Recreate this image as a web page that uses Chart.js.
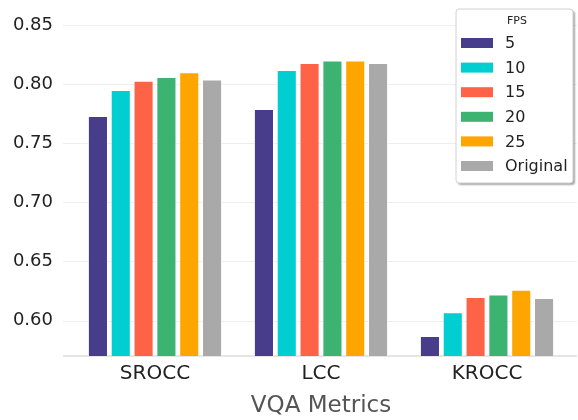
<!DOCTYPE html>
<html>
<head>
<meta charset="utf-8">
<script src="https://cdn.jsdelivr.net/npm/chart.js@4"></script>
<style>
  body { margin: 0; background: #fff; }
  #wrap { width: 578px; height: 420px; }
</style>
</head>
<body>
<div id="wrap"><canvas id="chart"></canvas></div>
<script>
// Data
const metrics = ['SROCC', 'LCC', 'KROCC'];
const fpsLabels = ['5', '10', '15', '20', '25', 'Original'];
const fps5 = [0.773, 0.779, 0.587];
const fps10 = [0.795, 0.812, 0.607];
const fps15 = [0.803, 0.818, 0.620];
const fps20 = [0.806, 0.820, 0.622];
const fps25 = [0.810, 0.820, 0.626];
const fpsOriginal = [0.804, 0.818, 0.619];
const yTicks = [0.60, 0.65, 0.70, 0.75, 0.80, 0.85];

const colors = ['#483D8B', '#00CED1', '#FF6347', '#3CB371', '#FFA500', '#A9A9A9'];
const series = [fps5, fps10, fps15, fps20, fps25, fpsOriginal];

const font = 'DejaVu Sans';
const gridLeft = 63, gridRight = 577;

// Grid lines and bottom spine, wider than the bar area (matplotlib margins)
const wideGrid = {
    id: 'wideGrid',
    beforeDatasetsDraw(chart) {
        const c = chart.ctx;
        const y = chart.scales.y;
        c.save();
        c.strokeStyle = '#eeeeee';
        c.lineWidth = 1;
        yTicks.forEach(v => {
            const py = Math.round(y.getPixelForValue(v)) + 0.5;
            c.beginPath();
            c.moveTo(gridLeft, py);
            c.lineTo(gridRight, py);
            c.stroke();
        });
        c.strokeStyle = '#dddddd';
        c.lineWidth = 1.5;
        const by = chart.chartArea.bottom;
        c.beginPath();
        c.moveTo(gridLeft, by);
        c.lineTo(gridRight, by);
        c.stroke();
        c.restore();
    }
};

// Legend box drawn in the top right corner, like the original
const boxLegend = {
    id: 'boxLegend',
    afterDraw(chart) {
        const c = chart.ctx;
        const x = 456, y = 9, w = 117, h = 174;
        c.save();
        c.shadowColor = 'rgba(0,0,0,0.35)';
        c.shadowOffsetX = 2;
        c.shadowOffsetY = 2;
        c.shadowBlur = 2;
        c.fillStyle = '#fff';
        c.beginPath();
        c.roundRect(x, y, w, h, 3);
        c.fill();
        c.shadowColor = 'transparent';
        c.strokeStyle = '#d0d0d0';
        c.lineWidth = 1;
        c.stroke();

        c.fillStyle = '#222';
        c.font = '11px "' + font + '"';
        c.textAlign = 'center';
        c.textBaseline = 'middle';
        c.fillText('FPS', 517, 21);

        c.font = '16px "' + font + '"';
        c.textAlign = 'left';
        chart.data.datasets.forEach((ds, i) => {
            const ry = 43 + i * 24.6;
            c.fillStyle = ds.backgroundColor;
            c.fillRect(461, ry - 5, 32, 10);
            c.fillStyle = '#222';
            c.fillText(ds.label, 505, ry + 1);
        });
        c.restore();
    }
};

const ctx = document.getElementById('chart').getContext('2d');
const chart = new Chart(ctx, {
    type: 'bar',
    data: {
        labels: metrics,
        datasets: series.map((vals, i) => ({
            label: fpsLabels[i],
            data: vals,
            backgroundColor: colors[i],
            borderColor: 'rgba(255,255,255,0.6)',
            borderWidth: 1,
            barPercentage: 0.88,
            categoryPercentage: 0.825
        }))
    },
    options: {
        responsive: true,
        maintainAspectRatio: false,
        animation: false,
        layout: { padding: { top: 5, right: 8, left: 0, bottom: 0 } },
        plugins: {
            legend: { display: false },
            tooltip: { enabled: false }
        },
        scales: {
            x: {
                grid: { display: false, drawTicks: false },
                border: { display: false },
                ticks: { color: '#222', font: { family: font, size: 20 }, padding: 6 },
                title: {
                    display: true,
                    text: 'VQA Metrics',
                    color: '#555',
                    font: { family: font, size: 23 },
                    padding: { top: 0, bottom: 0 }
                },
                afterFit(scale) {
                    scale.height = 64;
                    scale.paddingLeft = 0;
                    scale.paddingRight = 0;
                }
            },
            y: {
                min: 0.57,
                max: 0.867,
                grid: { display: false, drawTicks: false },
                border: { display: false },
                ticks: {
                    color: '#222',
                    font: { family: font, size: 18 },
                    padding: 19,
                    callback: v => v.toFixed(2)
                },
                afterBuildTicks(scale) {
                    scale.ticks = yTicks.map(v => ({ value: v }));
                },
                afterFit(scale) {
                    scale.width = 72;
                    scale.paddingTop = 0;
                    scale.paddingBottom = 0;
                }
            }
        }
    },
    plugins: [wideGrid, boxLegend]
});
</script>
</body>
</html>
